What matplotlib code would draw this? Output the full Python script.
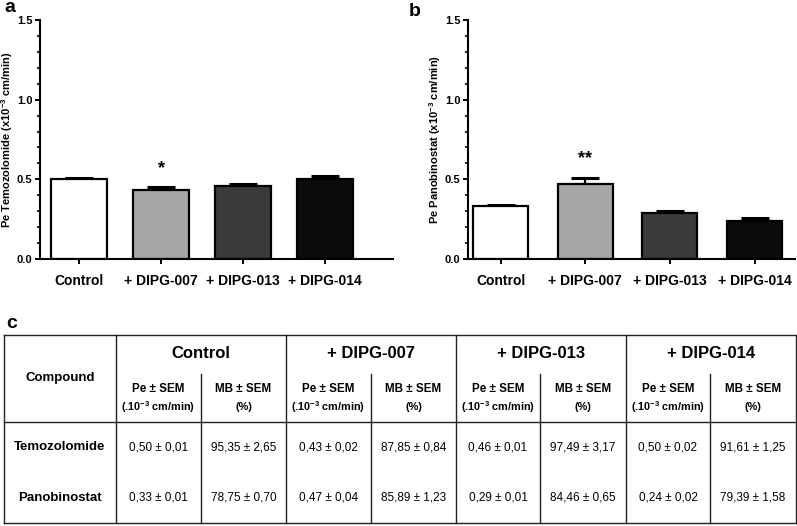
import matplotlib
matplotlib.use('Agg')
import matplotlib.pyplot as plt
import numpy as np
from matplotlib.ticker import MultipleLocator

plt.rcParams['font.family'] = ['Liberation Sans', 'DejaVu Sans']
plt.rcParams['mathtext.fontset'] = 'custom'
plt.rcParams['mathtext.rm'] = 'Liberation Sans'
plt.rcParams['mathtext.bf'] = 'Liberation Sans:bold'
plt.rcParams['mathtext.default'] = 'bf'

# 数据
groups = ['Control', '+ DIPG-007', '+ DIPG-013', '+ DIPG-014']
bar_colors = ['#ffffff', '#a6a6a6', '#3b3b3b', '#0b0b0b']
tmz_pe = [0.50, 0.43, 0.46, 0.50]
tmz_pe_sem = [0.01, 0.02, 0.01, 0.02]
tmz_mb = [95.35, 87.85, 97.49, 91.61]
tmz_mb_sem = [2.65, 0.84, 3.17, 1.25]
pano_pe = [0.33, 0.47, 0.29, 0.24]
pano_pe_sem = [0.01, 0.04, 0.01, 0.02]
pano_mb = [78.75, 85.89, 84.46, 79.39]
pano_mb_sem = [0.70, 1.23, 0.65, 1.58]
tmz_stars = ['', '*', '', '']
pano_stars = ['', '**', '', '']

W, H = 797, 526
fig = plt.figure(figsize=(W / 100, H / 100), dpi=100)


def px_axes(x0, x1, y0, y1):
    return fig.add_axes([x0 / W, 1 - y1 / H, (x1 - x0) / W, (y1 - y0) / H])


def bar_panel(ax, vals, sems, stars, ylabel, xlim, width, lab_x):
    x = np.arange(len(groups))
    ax.bar(x, vals, width=width, color=bar_colors, edgecolor='black', linewidth=1.6, zorder=2)
    ax.errorbar(x, vals, yerr=[np.zeros(len(sems)), sems], fmt='none', ecolor='black',
                elinewidth=1.6, capsize=10, capthick=2.2, zorder=1)
    for xi, v, s, st in zip(x, vals, sems, stars):
        if st:
            ax.text(xi, v + s + 0.12, st, ha='center', va='center', fontsize=13, fontweight='bold')
    ax.set_xlim(*xlim)
    ax.set_ylim(0, 1.5)
    ax.yaxis.set_major_locator(MultipleLocator(0.5))
    ax.yaxis.set_minor_locator(MultipleLocator(0.1))
    ax.set_yticklabels([f'{t:.1f}' for t in ax.get_yticks()])
    ax.set_xticks(x)
    ax.set_xticklabels(groups, fontsize=10, fontweight='bold')
    for lbl in ax.get_yticklabels():
        lbl.set_fontweight('bold')
        lbl.set_fontsize(8)
    ax.tick_params(axis='both', which='major', direction='out', length=3.5, width=1.4, pad=2)
    ax.tick_params(axis='x', pad=7)
    ax.tick_params(axis='y', which='minor', direction='out', length=2.5, width=1.2)
    ax.spines[['top', 'right']].set_visible(False)
    ax.spines[['left', 'bottom']].set_linewidth(1.5)
    ax.set_ylabel(ylabel, fontsize=8, fontweight='bold')
    ax.yaxis.set_label_coords(lab_x, 0.5)
    ax.set_facecolor('none')


ax1 = px_axes(40, 393, 20, 259)
bar_panel(ax1, tmz_pe, tmz_pe_sem, tmz_stars, 'Pe Temozolomide (x10$^{-3}$ cm/min)',
          (-0.476, 3.83), 0.68, -0.07)
ax2 = px_axes(468, 795, 20, 259)
bar_panel(ax2, pano_pe, pano_pe_sem, pano_stars, 'Pe Panobinostat (x10$^{-3}$ cm/min)',
          (-0.384, 3.478), 0.65, -0.077)

# 表格 (像素坐标)
tb = fig.add_axes([0, 0, 1, 1], zorder=5)
tb.set_xlim(0, W)
tb.set_ylim(H, 0)
tb.axis('off')
tb.patch.set_alpha(0)

tb.text(4, 8, 'a', fontsize=14, fontweight='bold', ha='left', va='center')
tb.text(409, 12, 'b', fontsize=14, fontweight='bold', ha='left', va='center')
tb.text(6, 323, 'c', fontsize=14, fontweight='bold', ha='left', va='center')

col_edges = [4, 116, 201, 286, 371, 456, 540, 626, 710, 796]
y_top, y_sub, y_head, y_bot = 335, 374, 422, 523
lw = 1.0
lc = '#222222'
for y in (y_top, y_head, y_bot):
    tb.plot([col_edges[0], col_edges[-1]], [y, y], color=lc, lw=lw)
for i, xe in enumerate(col_edges):
    y0 = y_top if i % 2 == 1 or i == 0 or i == len(col_edges) - 1 else y_sub
    tb.plot([xe, xe], [y0, y_bot], color=lc, lw=lw)

tb.text((col_edges[0] + col_edges[1]) / 2, 378, 'Compound', ha='center', va='center',
        fontsize=9.5, fontweight='bold')
rows = [('Temozolomide', tmz_pe, tmz_pe_sem, tmz_mb, tmz_mb_sem, 447),
        ('Panobinostat', pano_pe, pano_pe_sem, pano_mb, pano_mb_sem, 498)]


def fmt(v, s):
    return f'{v:.2f} ± {s:.2f}'.replace('.', ',')


for g, name in enumerate(groups):
    xa, xm, xb = col_edges[1 + 2 * g], col_edges[2 + 2 * g], col_edges[3 + 2 * g]
    tb.text((xa + xb) / 2, 353, name, ha='center', va='center', fontsize=12, fontweight='bold')
    tb.text((xa + xm) / 2, 389, 'Pe ± SEM', ha='center', va='center', fontsize=8.4, fontweight='bold')
    tb.text((xa + xm) / 2, 407, '(.10$^{-3}$ cm/min)', ha='center', va='center', fontsize=7.8,
            fontweight='bold')
    tb.text((xm + xb) / 2, 389, 'MB ± SEM', ha='center', va='center', fontsize=8.4, fontweight='bold')
    tb.text((xm + xb) / 2, 407, '(%)', ha='center', va='center', fontsize=7.8, fontweight='bold')
    for rname, pe, pes, mb, mbs, yr in rows:
        tb.text((xa + xm) / 2, yr, fmt(pe[g], pes[g]), ha='center', va='center', fontsize=8.5)
        tb.text((xm + xb) / 2, yr, fmt(mb[g], mbs[g]), ha='center', va='center', fontsize=8.5)

for rname, pe, pes, mb, mbs, yr in rows:
    tb.text((col_edges[0] + col_edges[1]) / 2, yr, rname, ha='center', va='center',
            fontsize=9.5, fontweight='bold')

fig.savefig('out.png', dpi=100)
